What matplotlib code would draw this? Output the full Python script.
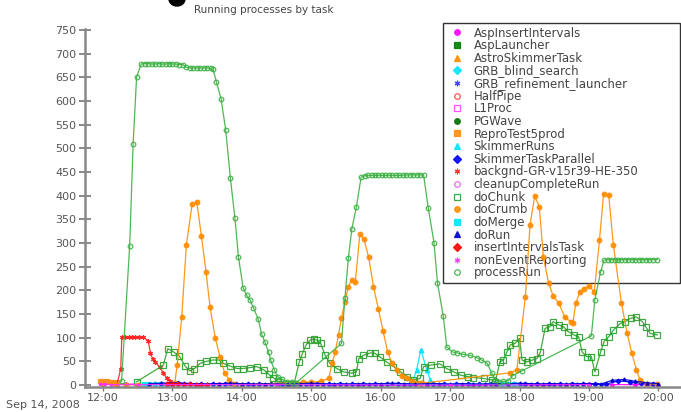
import matplotlib
matplotlib.use("Agg")
import matplotlib.pyplot as plt
from matplotlib.patches import Ellipse

# minutes since 12:00, running-process counts
proc_t = [16, 23, 26, 29, 33, 36, 39, 42, 45, 48, 51, 54, 57, 60, 63, 66, 69,
          72, 75, 78, 81, 84, 87, 90, 93, 95, 98, 102, 106, 110, 114, 117, 121,
          124, 127, 130, 134, 137, 140, 143, 145, 148, 151, 155, 159, 163, 167,
          206, 209, 212, 215, 219, 223, 226, 229, 232, 235, 238, 241, 244, 247,
          250, 253, 256, 259, 262, 265, 268, 271, 274, 277, 281, 286, 289, 294,
          297, 302, 306, 311, 317, 323, 327, 332, 336, 339, 342, 346, 350, 354,
          362, 422, 425, 430, 433, 436, 439, 442, 445, 448, 451, 454, 457, 460,
          463, 466, 469, 472, 475, 479]
proc_v = [8, 294, 510, 651, 678, 679, 679, 678, 678, 679, 678, 678, 679, 678,
          678, 677, 677, 671, 670, 670, 670, 670, 670, 670, 669, 667, 640, 604,
          539, 438, 352, 271, 206, 190, 180, 163, 140, 108, 90, 70, 52, 32, 18,
          12, 7, 6, 5, 88, 183, 268, 330, 377, 439, 442, 443, 443, 443, 443,
          443, 443, 443, 443, 443, 443, 443, 444, 444, 444, 444, 444, 444, 375,
          301, 216, 146, 81, 70, 68, 65, 63, 58, 53, 46, 25, 11, 7, 8, 9, 20,
          30, 104, 180, 239, 264, 265, 265, 265, 265, 265, 265, 265, 265, 265,
          265, 265, 265, 265, 265, 265]

chunk_t = [29, 52, 56, 61, 66, 71, 75, 79, 84, 89, 95, 100, 104, 110, 116, 121,
           127, 133, 139, 143, 147, 151, 155, 160, 165, 169.5, 172, 175.5, 179,
           182, 185, 188, 192, 196, 202, 208, 215, 219, 221, 225, 231, 235, 239,
           245, 251, 257, 263, 268, 274, 277, 283, 291, 297, 303, 309, 315, 320,
           329, 336, 339, 343, 346, 349, 352, 356, 360, 362, 366, 371, 375, 378,
           382, 386, 389, 394, 398, 402, 407, 411, 414, 418, 422, 425, 430, 433,
           437, 441, 447, 451, 456, 461, 466, 469, 473, 479]
chunk_v = [7, 42, 77, 70, 61, 40, 30, 35, 46, 50, 53, 53, 46, 40, 35, 35, 37,
           39, 32, 23, 16, 8, 3, 2, 2, 48, 65, 85, 95, 97, 95, 88, 63, 46, 35,
           28, 25, 28, 56, 63, 68, 67, 60, 49, 39, 28, 18, 11, 14, 39, 42, 45,
           35, 28, 21, 18, 16, 14, 11, 7, 49, 53, 70, 85, 88, 99, 53, 49, 53, 56,
           70, 120, 123, 134, 127, 123, 113, 106, 102, 70, 60, 60, 28, 70, 92,
           102, 116, 130, 134, 141, 144, 134, 123, 109, 106]

crumb_t = [0, 10, 20, 30, 40, 50, 58, 62, 64, 68, 72, 77, 81, 85, 89, 92.5, 97,
           101, 105, 109, 113, 120, 173, 180, 188, 195, 198, 200.6, 203.5, 206,
           209, 212, 215, 218, 222, 225.5, 229.5, 233.7, 238, 242, 246, 249.5,
           254, 258, 262.6, 267, 272, 276, 352, 357.6, 365, 369, 373, 377, 380.5,
           385, 389, 393.6, 399, 404, 406, 408.6, 412, 416, 420, 424.5, 429,
           432.6, 437, 441, 448, 453, 457, 461, 464, 470, 479]
crumb_v = [2, 2, 1, 1, 1, 2, 3, 4, 42, 144, 296, 382, 387, 315, 239, 164, 99,
           60, 26, 11, 3, 1, 6, 6, 8, 14, 46, 70, 106, 141, 176, 208, 222, 218,
           320, 308, 271, 208, 160, 114, 70, 47, 32, 20, 14, 9, 5, 4, 26, 32,
           187, 338, 399, 377, 271, 216, 188, 174, 144, 134, 132, 173, 197, 204,
           209, 197, 306, 404, 401, 296, 173, 109, 67, 32, 11, 3, 2]

bkg_t = [12, 15.3, 16.2, 19, 22, 25, 28, 31, 34.8, 39, 41, 43, 45, 49, 52, 55, 58, 61]
bkg_v = [1, 35, 101, 101, 101, 101, 101, 101, 101, 94, 67, 55, 49, 38, 26, 14, 8, 3]

skim_t = [264, 268, 271, 274.6, 279.8, 282.7, 286]
skim_v = [0, 11, 32, 75, 32, 11, 0]

repro_t = [-3, 0, 3, 6, 9, 12]
repro_v = [8, 8, 8, 7, 7, 6]

dorun_t = list(range(40, 481, 10))
dorun_v = [3, 4, 5, 4, 3, 2, 3, 4, 3, 2, 3, 2, 2, 3, 4, 3, 2, 2, 3, 2,
           3, 4, 3, 2, 3, 3, 2, 3, 2, 2, 3, 3, 4, 3, 2, 3, 2, 3, 3, 2,
           10, 12, 8, 5, 3]

stp_t = list(range(45, 476, 10))
stp_v = [2, 3, 4, 3, 2, 3, 2, 2, 3, 2, 2, 3, 2, 3, 2, 2, 3, 2, 2, 3,
         2, 2, 3, 2, 3, 2, 2, 3, 2, 3, 2, 2, 3, 2, 3, 2, 2, 2, 3, 2,
         9, 7, 4, 3]

aspins_t = list(range(0, 481, 20))
aspins_v = [3, 2, 2, 1, 1, 2, 1, 1, 1, 1, 1, 0, 1, 0, 1, 1, 0, 1, 1, 0, 1, 2, 1, 1, 0]

merge_t = [35, 40, 45, 50, 55, 345, 350, 355, 360]
merge_v = [2, 2, 3, 2, 1, 2, 3, 2, 1]

iit_t = [55, 60, 65, 70, 75, 80, 85, 90]
iit_v = [3, 2, 2, 1, 2, 1, 1, 0]

nonev_t = [-3, 2, 7, 30, 150, 300, 420]
nonev_v = [2, 2, 1, 1, 1, 0, 1]

hour_ticks = [0, 60, 120, 180, 240, 300, 360, 420, 480]
hour_labels = ["12:00", "13:00", "14:00", "15:00", "16:00", "17:00", "18:00", "19:00", "20:00"]

ast = (6, 2, 0)
# (label, t, v, marker, color, filled)
series = [
    ("AspInsertIntervals", aspins_t, aspins_v, "o", "#ff00ff", True),
    ("AspLauncher", [], [], "s", "#008000", True),
    ("AstroSkimmerTask", [], [], "^", "#ff8c00", True),
    ("GRB_blind_search", [], [], "D", "#00e5ff", True),
    ("GRB_refinement_launcher", [], [], ast, "#3030ff", True),
    ("HalfPipe", [], [], "o", "#ff4040", False),
    ("L1Proc", [], [], "s", "#ff40ff", False),
    ("PGWave", [], [], "o", "#007000", True),
    ("ReproTest5prod", repro_t, repro_v, "s", "#ff8c1a", True),
    ("SkimmerRuns", skim_t, skim_v, "^", "#00e5ff", True),
    ("SkimmerTaskParallel", stp_t, stp_v, "D", "#0000ff", True),
    ("backgnd-GR-v15r39-HE-350", bkg_t, bkg_v, ast, "#ff2020", True),
    ("cleanupCompleteRun", [], [], "o", "#e060e0", False),
    ("doChunk", chunk_t, chunk_v, "s", "#2ca02c", False),
    ("doCrumb", crumb_t, crumb_v, "o", "#ff8c00", True),
    ("doMerge", merge_t, merge_v, "s", "#00e5ff", True),
    ("doRun", dorun_t, dorun_v, "^", "#0000cc", True),
    ("insertIntervalsTask", iit_t, iit_v, "D", "#ff0000", True),
    ("nonEventReporting", nonev_t, nonev_v, ast, "#ff30ff", True),
    ("processRun", proc_t, proc_v, "o", "#3cb043", False),
]
big = {"doChunk", "doCrumb", "processRun", "backgnd-GR-v15r39-HE-350", "SkimmerRuns"}

fig = plt.figure(figsize=(6.81, 4.12), dpi=100)
ax = fig.add_axes([85 / 681, 1 - 387 / 412, 595 / 681, 358 / 412])

for label, t, v, mk, col, filled in series:
    if label in big:
        ms = 3.8 if mk == "s" else 3.3
    else:
        ms = 2.4
    ax.plot(t, v, color=col, lw=0.9, marker=mk, markersize=ms,
            markerfacecolor=col if filled else "none", markeredgecolor=col,
            markeredgewidth=0.9, label=label, alpha=0.9)

ax.set_xlim(-15.6, 498.6)
ax.set_ylim(-4, 752)
ax.set_yticks(range(0, 751, 50))
ax.set_xticks(hour_ticks)
ax.set_xticklabels(hour_labels)

for side in ["top", "right"]:
    ax.spines[side].set_visible(False)
for side in ["left", "bottom"]:
    ax.spines[side].set_color("#888888")
    ax.spines[side].set_linewidth(1.8)
ax.tick_params(axis="y", direction="inout", length=8, width=1.2, color="#777777",
               labelsize=8, labelcolor="#555555", pad=2)
ax.tick_params(axis="x", direction="out", length=3, width=1, color="#777777",
               labelsize=8, labelcolor="#555555", pad=1)


# legend box spans x 443..680 px, y 23..283 px
def make_legend(spacing):
    lg = ax.legend(loc="upper left",
                   bbox_to_anchor=(443 / 681, 1 - 283 / 412, 237 / 681, 260 / 412),
                   bbox_transform=fig.transFigure, mode="expand", borderaxespad=0,
                   fontsize=8.5, labelspacing=spacing, handlelength=1.8,
                   handletextpad=0.5, borderpad=0.3, fancybox=False,
                   framealpha=1, edgecolor="#333333")
    for h in lg.get_lines():
        h.set_linestyle("none")
        h.set_markersize(4)
    for txt in lg.get_texts():
        txt.set_color("#444444")
    lg.get_frame().set_linewidth(1.0)
    lg.set_zorder(0)
    return lg


spacing = 0.1
fs_px = 8.5 * 100 / 72
for _ in range(3):
    leg = make_legend(spacing)
    fig.canvas.draw()
    h = leg.get_window_extent().height
    spacing += (260 - h) / (19 * fs_px)
leg = make_legend(spacing)

fig.text(264 / 681, 1 - 10 / 412, "Running processes by task", ha="center",
         va="center", fontsize=7.5, color="#444444")
fig.add_artist(Ellipse((177 / 681, 1 + 1 / 412), 16 / 681, 14 / 412,
                       transform=fig.transFigure, color="black"))
fig.text(6 / 681, 1 - 405 / 412, "Sep 14, 2008", ha="left", va="center",
         fontsize=8, color="#555555")

fig.savefig("out.png", dpi=100)
